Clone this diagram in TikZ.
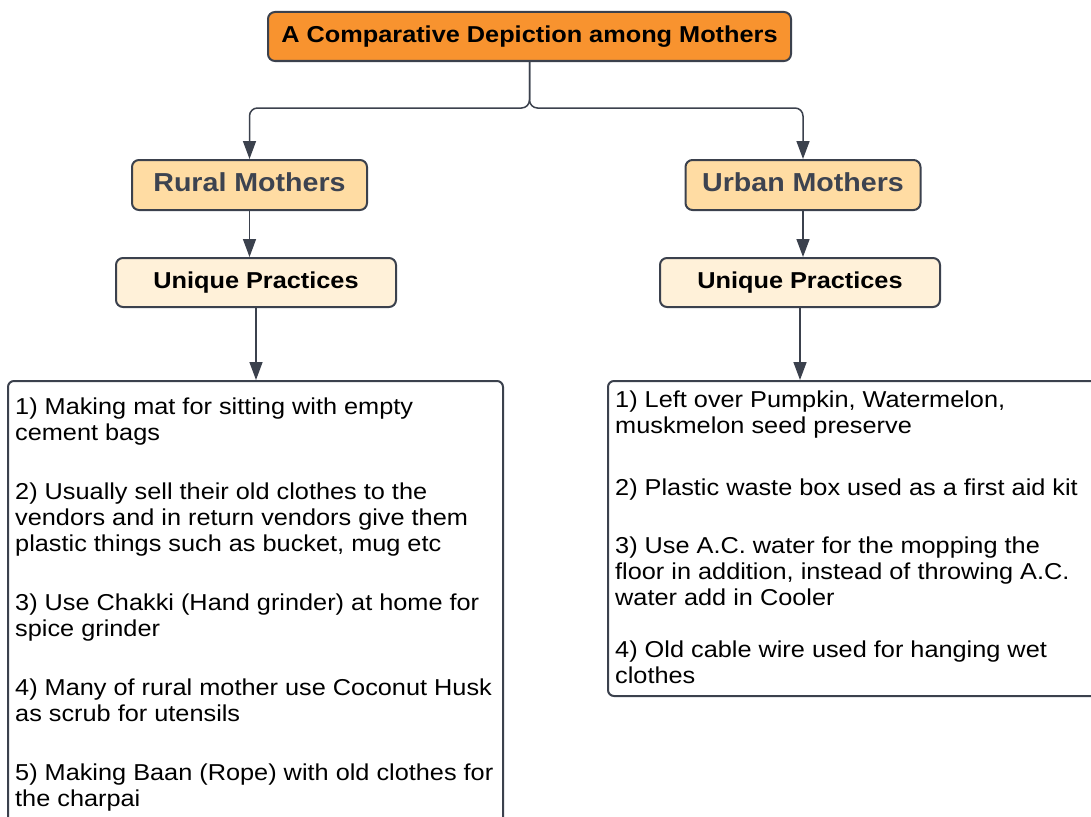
\documentclass[tikz,border=0pt]{standalone}
\usepackage{fontspec}
\setmainfont{Liberation Sans}[FakeStretch=1.1]
\usetikzlibrary{arrows.meta}
\definecolor{edge}{HTML}{3B414D}
\definecolor{titlefill}{HTML}{F8932F}
\definecolor{catfill}{HTML}{FFDCA3}
\definecolor{uniqfill}{HTML}{FFF1D9}
\definecolor{cattext}{HTML}{3D4350}
\tikzset{
  box/.style={draw=edge, line width=2pt, rounded corners=7pt, inner sep=0pt},
  titlebox/.style={box, fill=titlefill, minimum width=523pt, minimum height=49pt,
    font=\fontsize{23}{26}\selectfont\bfseries},
  catbox/.style={box, fill=catfill, minimum width=235pt, minimum height=50pt,
    text=cattext, text depth=6pt, font=\fontsize{26}{30}\selectfont\bfseries},
  uniqbox/.style={box, fill=uniqfill, minimum width=280pt, minimum height=49pt,
    font=\fontsize{23}{26}\selectfont\bfseries},
  listbox/.style={box, fill=white, rounded corners=6pt},
  listtext/.style={anchor=north west, inner sep=0pt, align=left,
    font=\fontsize{23}{26}\selectfont},
  conn/.style={draw=edge, line width=1.5pt},
  arr/.style={conn, -{Triangle[width=13pt,length=18pt]}},
}
\begin{document}
\begin{tikzpicture}[x=1pt,y=-1pt]
\useasboundingbox (0,0) rectangle (1091,816);
\clip (0,0) rectangle (1091,816);
\node[titlebox] (title) at (529.5,36.5) {A Comparative Depiction among Mothers};
\node[catbox] (rural) at (249.5,185) {Rural Mothers};
\node[catbox] (urban) at (803,185) {Urban Mothers};
\node[uniqbox] (uniqL) at (256,282.5) {Unique Practices};
\node[uniqbox] (uniqR) at (800,282.5) {Unique Practices};
\node[listbox, minimum width=495pt, minimum height=449pt] (listL) at (255.5,605.5) {};
\node[listbox, minimum width=497pt, minimum height=315pt] (listR) at (856.5,538.5) {};
\coordinate (j) at (529.5,108);
\draw[arr, rounded corners=8pt] (title.south) -- (j) -| (rural.north);
\draw[arr, rounded corners=8pt] (title.south) -- (j) -| (urban.north);
\draw[arr] (rural.south) -- (rural.south |- uniqL.north);
\draw[arr] (urban.south) -- (urban.south |- uniqR.north);
\draw[arr] (uniqL.south) -- (uniqL.south |- listL.north);
\draw[arr] (uniqR.south) -- (uniqR.south |- listR.north);
\node[listtext] (textL) at (15,398) {1) Making mat for sitting with empty\\
cement bags\\[33pt]
2) Usually sell their old clothes to the\\
vendors and in return vendors give them\\
plastic things such as bucket, mug etc\\[33pt]
3) Use Chakki (Hand grinder) at home for\\
spice grinder\\[33pt]
4) Many of rural mother use Coconut Husk\\
as scrub for utensils\\[33pt]
5) Making Baan (Rope) with old clothes for\\
the charpai};
\node[listtext] (textR) at (615,391) {1) Left over Pumpkin, Watermelon,\\
muskmelon seed preserve\\[36pt]
2) Plastic waste box used as a first aid kit\\[32pt]
3) Use A.C. water for the mopping the\\
floor in addition, instead of throwing A.C.\\
water add in Cooler\\[26pt]
4) Old cable wire used for hanging wet\\
clothes};
\end{tikzpicture}
\end{document}
